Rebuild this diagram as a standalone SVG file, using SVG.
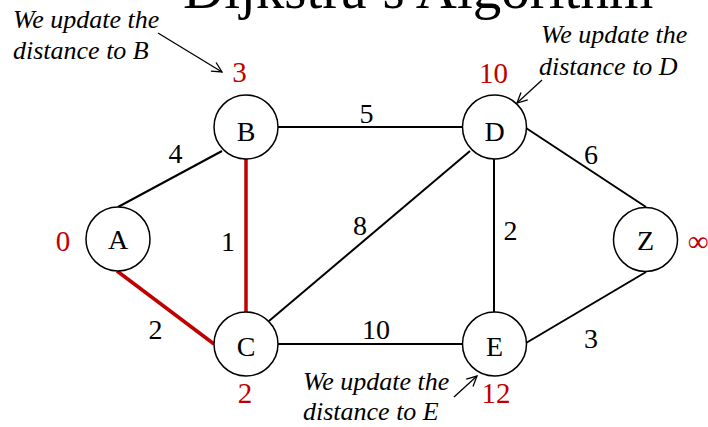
<svg xmlns="http://www.w3.org/2000/svg" width="708" height="427" viewBox="0 0 708 427">
<defs>
<style>
.node circle{fill:#fff;stroke:#000;stroke-width:1.5}
.node text{font-family:"Liberation Serif",serif;font-size:28px;text-anchor:middle;fill:#000}
.e{stroke:#000;stroke-width:2;fill:none}
.r{stroke:#c00000;stroke-width:3.5;fill:none}
.w{font-family:"Liberation Serif",serif;font-size:28px;text-anchor:middle;fill:#000}
.d{font-family:"Liberation Serif",serif;font-size:29px;text-anchor:middle;fill:#c00000}
.note{font-family:"Liberation Serif",serif;font-style:italic;font-size:26px;fill:#000}
.arr{stroke:#000;stroke-width:1.3;fill:none;marker-end:url(#ah)}
</style>
<marker id="ah" viewBox="0 0 12 12" refX="11" refY="6" markerWidth="12" markerHeight="12" markerUnits="userSpaceOnUse" orient="auto">
<path d="M1,1 L11,6 L1,11" fill="none" stroke="#000" stroke-width="1.3"/>
</marker>
</defs>
<rect width="708" height="427" fill="#fff"/>
<text x="183" y="8" font-family="Liberation Serif,serif" font-size="57" fill="#000">Dijkstra’s Algorithm</text>
<g id="connectors">
<line class="e" x1="118" y1="207" x2="222" y2="151"/>
<line class="e" x1="278" y1="127" x2="463" y2="127"/>
<line class="r" x1="246" y1="159" x2="246" y2="312"/>
<line class="r" x1="117" y1="271" x2="214" y2="344"/>
<line class="e" x1="269" y1="321" x2="470" y2="151"/>
<line class="e" x1="278" y1="344" x2="462" y2="344"/>
<line class="e" x1="494" y1="159" x2="494" y2="312"/>
<line class="e" x1="526" y1="128" x2="646" y2="207"/>
<line class="e" x1="526" y1="343" x2="646" y2="272"/>
<text class="w" x="175.5" y="163">4</text>
<text class="w" x="366.5" y="123">5</text>
<text class="w" x="228" y="251">1</text>
<text class="w" x="155.5" y="339">2</text>
<text class="w" x="360" y="235">8</text>
<text class="w" x="376" y="339">10</text>
<text class="w" x="510.5" y="240">2</text>
<text class="w" x="591" y="164">6</text>
<text class="w" x="591" y="348">3</text>
</g>
<g id="A" class="node"><circle cx="118" cy="239" r="32"/><text x="118" y="249">A</text></g>
<g id="B" class="node"><circle cx="246" cy="127" r="32"/><text x="246" y="141">B</text></g>
<g id="C" class="node"><circle cx="246" cy="344" r="32"/><text x="246" y="356">C</text></g>
<g id="D" class="node"><circle cx="494.5" cy="127" r="32"/><text x="494.5" y="141">D</text></g>
<g id="E" class="node"><circle cx="494.5" cy="344" r="32"/><text x="494.5" y="356">E</text></g>
<g id="Z" class="node"><circle cx="645.5" cy="239.5" r="32"/><text x="645.5" y="250">Z</text></g>
<g id="distances">
<text class="d" x="63" y="251">0</text>
<text class="d" x="239.5" y="82">3</text>
<text class="d" x="245" y="403">2</text>
<text class="d" x="493.5" y="83">10</text>
<text class="d" x="496" y="403">12</text>
<text class="d" x="698" y="251">∞</text>
</g>
<g id="notes">
<text class="note" x="13" y="28">We update the</text>
<text class="note" x="13" y="59">distance to B</text>
<line class="arr" x1="158" y1="33" x2="222" y2="72"/>
<text class="note" x="541" y="43">We update the</text>
<text class="note" x="539" y="75">distance to D</text>
<line class="arr" x1="542" y1="80" x2="517" y2="103"/>
<text class="note" x="303" y="390">We update the</text>
<text class="note" x="303" y="420">distance to E</text>
<line class="arr" x1="454" y1="397" x2="477" y2="376"/>
</g>
</svg>
